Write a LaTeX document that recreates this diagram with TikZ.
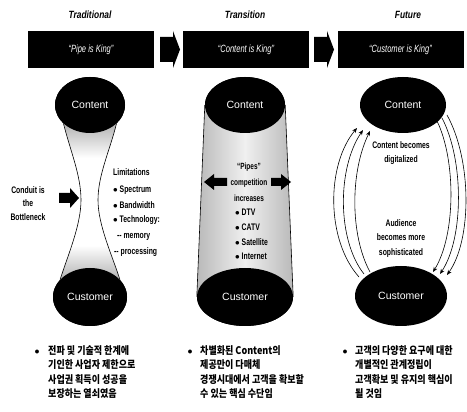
\documentclass[tikz,border=0pt]{standalone}
\usepackage{fontspec}
\setmainfont{Liberation Sans}
\newfontfamily\narrow[FakeStretch=0.8]{Liberation Sans}
\newfontfamily\vnarrow[FakeStretch=0.72]{Liberation Sans}
\newfontfamily\kr[FakeStretch=0.86]{Noto Sans CJK KR}
\usetikzlibrary{arrows.meta,shapes.geometric}
\pgfdeclareverticalshading{hgshade}{100bp}{color(0bp)=(gray!60); color(25bp)=(gray!60); color(36bp)=(white); color(64bp)=(white); color(75bp)=(gray!60); color(100bp)=(gray!60)}
\tikzset{
 ell/.style={ellipse, fill=black, text=white, inner sep=0pt, font=\fontsize{10.5}{12}\selectfont},
 hdr/.style={fill=black, text=white, minimum width=126pt, minimum height=37pt, inner sep=0pt, font=\vnarrow\itshape\fontsize{10.5}{12}\selectfont},
 ttl/.style={font=\narrow\bfseries\itshape\fontsize{10.5}{12}\selectfont},
 lbl/.style={font=\vnarrow\bfseries\fontsize{9.5}{14.5}\selectfont, align=center, inner sep=0pt},
 lst/.style={font=\vnarrow\bfseries\fontsize{9.5}{12}\selectfont, inner sep=0pt, anchor=west},
 krtxt/.style={font=\kr\bfseries\fontsize{10.5}{14.6}\selectfont, align=left, anchor=north west, inner sep=0pt},
 krbul/.style={font=\bfseries\fontsize{10}{12}\selectfont, inner sep=0pt},
 flow/.style={-{Stealth[length=5pt,width=4pt]}, line width=0.6pt},
 side/.style={line width=0.6pt},
}
\begin{document}
\begin{tikzpicture}[x=1pt,y=-1pt]
\useasboundingbox (0,0) rectangle (467,412);
% titles
\node[ttl] (t1) at (90,15) {Traditional};
\node[ttl] (t2) at (245,15) {Transition};
\node[ttl] (t3) at (408,15) {Future};
% header boxes
\node[hdr] (h1) at (91,49.5) {“Pipe is King”};
\node[hdr] (h2) at (246,49.5) {“Content is King”};
\node[hdr] (h3) at (400.5,49.5) {“Customer is King”};
% block arrows between boxes
\fill (160,37) -- (173,37) -- (173,31) -- (180,49.5) -- (173,68) -- (173,62) -- (160,62) -- cycle;
\fill (314,37) -- (327,37) -- (327,31) -- (334,49.5) -- (327,68) -- (327,62) -- (314,62) -- cycle;

% ---------- Panel 1 ----------
\coordinate (w1l) at (81,200);
\coordinate (w1r) at (98,200);
\node[ell, minimum width=70pt, minimum height=56pt] (c1) at (90,105) {};
\node[ell, minimum width=74pt, minimum height=58pt] (u1) at (90,297) {};
\shade[shading=hgshade]
  (c1.215) .. controls (70,150) and (81,175) .. (w1l) .. controls (81,225) and (68,255) .. (u1.150)
  -- (u1.30) .. controls (112,255) and (98,225) .. (w1r) .. controls (98,175) and (110,150) .. (c1.325) -- cycle;
\draw[side] (c1.215) .. controls (70,150) and (81,175) .. (w1l) .. controls (81,225) and (68,255) .. (u1.150);
\draw[side] (c1.325) .. controls (110,150) and (98,175) .. (w1r) .. controls (98,225) and (112,255) .. (u1.30);
\node[ell, minimum width=70pt, minimum height=56pt] (c1b) at (90,105) {Content};
\node[ell, minimum width=74pt, minimum height=58pt] (u1b) at (90,297) {Customer};
\node[lbl, font=\vnarrow\bfseries\fontsize{9.5}{13.5}\selectfont] (cond) at (28,203.5) {Conduit is\\the\\Bottleneck};
\fill (59,193) -- (70,193) -- (70,188) -- (79,198) -- (70,208) -- (70,203) -- (59,203) -- cycle;
\node[lst] (lim0) at (113,172) {Limitations};
\node[lst] (lim1) at (113,190) {$\bullet$ Spectrum};
\node[lst] (lim2) at (113,205) {$\bullet$ Bandwidth};
\node[lst] (lim3) at (113,220) {$\bullet$ Technology:};
\node[lst] (lim4) at (117,237) {-- memory};
\node[lst] (lim5) at (114,252) {-- processing};

% ---------- Panel 2 ----------
\node[ell, minimum width=80pt, minimum height=56pt] (c2) at (245,105) {};
\node[ell, minimum width=96pt, minimum height=58pt] (u2) at (245,297) {};
\shade[left color=gray!55, right color=gray!55, middle color=gray!12]
  (c2.180) -- (u2.180) -- (u2.0) -- (c2.0) -- cycle;
\draw[side] (c2.180) -- (u2.180);
\draw[side] (c2.0) -- (u2.0);
\node[ell, minimum width=80pt, minimum height=56pt] (c2b) at (245,105) {Content};
\node[ell, minimum width=96pt, minimum height=58pt] (u2b) at (245,297) {Customer};
\node[lbl, font=\vnarrow\bfseries\fontsize{9}{16}\selectfont] (pipes) at (249,182) {“Pipes”\\competition\\increases};
\node[lst] (m1) at (235,212) {$\bullet$ DTV};
\node[lst] (m2) at (235,227) {$\bullet$ CATV};
\node[lst] (m3) at (235,242) {$\bullet$ Satellite};
\node[lst] (m4) at (235,256) {$\bullet$ Internet};
\fill (204,182) -- (214,174) -- (214,178) -- (227,178) -- (227,186) -- (214,186) -- (214,190) -- cycle;
\fill (291,182) -- (281,174) -- (281,178) -- (271,178) -- (271,186) -- (281,186) -- (281,190) -- cycle;

% ---------- Panel 3 ----------
\node[ell, minimum width=86pt, minimum height=56pt] (c3) at (403,105) {Content};
\node[ell, minimum width=92pt, minimum height=60pt] (u3) at (401,296) {Customer};
\coordinate (a1s) at (359,277); \coordinate (a1e) at (357,128);
\coordinate (a2s) at (364,274); \coordinate (a2e) at (363,130);
\coordinate (a3s) at (370,272); \coordinate (a3e) at (370,131);
\draw[flow] (a1s) .. controls (326,240) and (326,165) .. (a1e);
\draw[flow] (a2s) .. controls (337,240) and (337,168) .. (a2e);
\draw[flow] (a3s) .. controls (350,235) and (350,172) .. (a3e);
\coordinate (b1s) at (437,121); \coordinate (b1e) at (433,272);
\coordinate (b2s) at (442,118); \coordinate (b2e) at (440,274);
\coordinate (b3s) at (447,115); \coordinate (b3e) at (447,275);
\draw[flow] (b1s) .. controls (456,160) and (456,235) .. (b1e);
\draw[flow] (b2s) .. controls (464,160) and (464,238) .. (b2e);
\draw[flow] (b3s) .. controls (472,160) and (472,240) .. (b3e);
\node[lbl] (dig) at (401,153) {Content becomes\\digitalized};
\node[lbl] (aud) at (401,238.5) {Audience\\becomes more\\sophisticated};

% ---------- Korean text ----------
\node[krbul] (k1b) at (37,352) {$\bullet$};
\node[krtxt] (k1) at (48,345) {전파 및 기술적 한계에\\기인한 사업자 제한으로\\사업권 획득이 성공을\\보장하는 열쇠였음};
\node[krbul] (k2b) at (190,352) {$\bullet$};
\node[krtxt] (k2) at (200,345) {차별화된 Content의\\제공만이 다매체\\경쟁시대에서 고객을 확보할\\수 있는 핵심 수단임};
\node[krbul] (k3b) at (345,352) {$\bullet$};
\node[krtxt] (k3) at (355,345) {고객의 다양한 요구에 대한\\개별적인 관계정립이\\고객확보 및 유지의 핵심이\\될 것임};
\end{tikzpicture}
\end{document}
